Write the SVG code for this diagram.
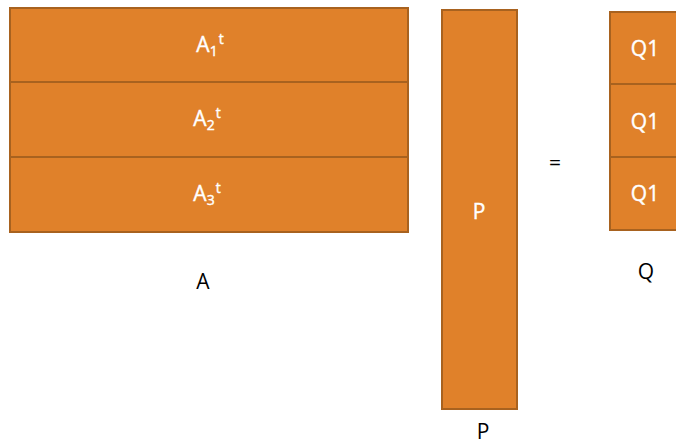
<svg xmlns="http://www.w3.org/2000/svg" width="676" height="445" viewBox="0 0 676 445">
<style>
.box{fill:#E0812A;stroke:#A8621F;stroke-width:2}
.w{fill:#fff;stroke:#fff;stroke-width:0.4;font-family:"Open Sans",Lato,sans-serif;font-size:21px;text-anchor:middle}
.k{fill:#000;font-family:"Open Sans",Lato,sans-serif;font-size:21px;text-anchor:middle}
.s{font-size:14px}
</style>
<rect width="676" height="445" fill="#fff"/>
<g id="A">
<rect class="box" x="10" y="8" width="398" height="74"/>
<rect class="box" x="10" y="82" width="398" height="75"/>
<rect class="box" x="10" y="157" width="398" height="75"/>
<text class="w" x="210" y="52">A<tspan class="s" dy="4">1</tspan><tspan class="s" dy="-12" dx="1">t</tspan></text>
<text class="w" x="207" y="126">A<tspan class="s" dy="4">2</tspan><tspan class="s" dy="-12" dx="1">t</tspan></text>
<text class="w" x="207" y="201">A<tspan class="s" dy="4">3</tspan><tspan class="s" dy="-12" dx="1">t</tspan></text>
<text class="k" x="203" y="289">A</text>
</g>
<g id="P">
<rect class="box" x="442" y="10" width="75" height="399"/>
<text class="w" x="479" y="219">P</text>
<text class="k" x="483" y="439">P</text>
</g>
<g id="eq">
<text class="k" x="555" y="170">=</text>
</g>
<g id="Q">
<rect class="box" x="610" y="12" width="80" height="72"/>
<rect class="box" x="610" y="84" width="80" height="73"/>
<rect class="box" x="610" y="157" width="80" height="73"/>
<text class="w" x="645" y="56">Q1</text>
<text class="w" x="645" y="129">Q1</text>
<text class="w" x="645" y="201">Q1</text>
<text class="k" x="646" y="279">Q</text>
</g>
<g id="connectors"></g>
</svg>
